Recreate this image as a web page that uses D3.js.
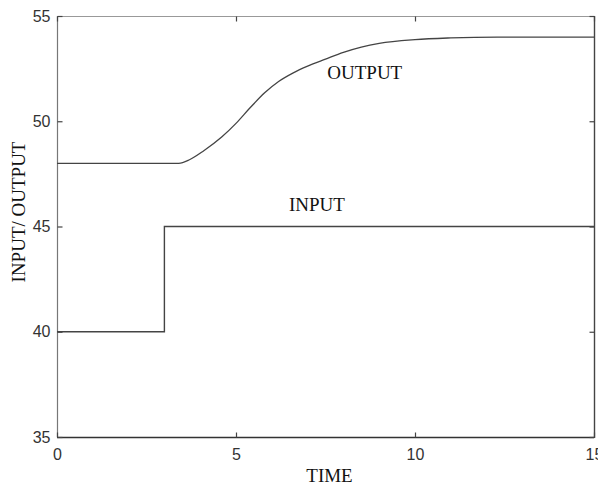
<!DOCTYPE html>
<html>
<head>
<meta charset="utf-8">
<script src="https://cdn.jsdelivr.net/npm/d3@7/dist/d3.min.js"></script>
<style>
  html, body { margin: 0; padding: 0; background: #fff; overflow: hidden; }
  svg { display: block; }
</style>
</head>
<body>
<script>
// ---- data ----
const xTicks = [0, 5, 10, 15];
const yTicks = [35, 40, 45, 50, 55];
const inputTime = [0, 3, 3, 15];
const inputValues = [40, 40, 45, 45];
const outputTime = [0, 3.4, 3.7, 4.1, 4.6, 5.0, 5.4, 5.8, 6.2, 6.6, 7.0, 7.5, 8.0, 8.5, 9.0, 10.0, 11.0, 12.3, 15];
const outputValues = [48, 48, 48.17, 48.6, 49.25, 49.9, 50.65, 51.35, 51.9, 52.3, 52.62, 52.95, 53.27, 53.52, 53.7, 53.88, 53.96, 54, 54];
const xLabel = "TIME";
const yLabel = "INPUT/ OUTPUT";
const outputLabel = "OUTPUT";
const inputLabel = "INPUT";

const W = 598, H = 487;
const L = 57, R = 594, T = 16, B = 437;

const svg = d3.select("body").append("svg").attr("width", W).attr("height", H);
const x = d3.scaleLinear().domain([0, 15]).range([L, R]);
const y = d3.scaleLinear().domain([35, 55]).range([B, T]);

// box
svg.append("line").attr("x1", L).attr("x2", R).attr("y1", T + 0.5).attr("y2", T + 0.5).attr("stroke", "#999").attr("stroke-width", 1.2);
svg.append("line").attr("x1", L + 0.5).attr("x2", L + 0.5).attr("y1", T).attr("y2", B).attr("stroke", "#777").attr("stroke-width", 1.2);
svg.append("line").attr("x1", L).attr("x2", R).attr("y1", B + 0.5).attr("y2", B + 0.5).attr("stroke", "#333").attr("stroke-width", 1.4);
svg.append("line").attr("x1", R + 0.5).attr("x2", R + 0.5).attr("y1", T).attr("y2", B + 1).attr("stroke", "#444").attr("stroke-width", 1.4);

const tickLen = 5;
// axes with inward ticks
const axB = svg.append("g").attr("transform", `translate(0,${B + 0.5})`)
  .call(d3.axisBottom(x).tickValues(xTicks).tickSizeInner(-tickLen).tickSizeOuter(0).tickPadding(11).tickFormat(d3.format("d")));
const axT = svg.append("g").attr("transform", `translate(0,${T + 0.5})`)
  .call(d3.axisTop(x).tickValues(xTicks).tickSizeInner(-tickLen).tickSizeOuter(0).tickFormat(""));
const axL = svg.append("g").attr("transform", `translate(${L + 0.5},0)`)
  .call(d3.axisLeft(y).tickValues(yTicks).tickSizeInner(-tickLen).tickSizeOuter(0).tickPadding(7).tickFormat(d3.format("d")));
const axR = svg.append("g").attr("transform", `translate(${R + 0.5},0)`)
  .call(d3.axisRight(y).tickValues(yTicks).tickSizeInner(-tickLen).tickSizeOuter(0).tickFormat(""));
[axB, axT, axL, axR].forEach(g => {
  g.select(".domain").remove();
  g.selectAll(".tick line").attr("stroke", "#444").attr("stroke-width", 1.2);
  g.selectAll("text").attr("font-family", "'Liberation Sans', Arial, sans-serif").attr("font-size", 16).attr("fill", "#333");
});
axB.selectAll("text").attr("dy", "0.71em");

// lines
const lineIn = d3.line().x((d, i) => x(inputTime[i])).y((d, i) => y(inputValues[i])).curve(d3.curveLinear);
svg.append("path").attr("d", lineIn(inputValues)).attr("fill", "none").attr("stroke", "#444").attr("stroke-width", 1.4);

const lineOut = d3.line().x((d, i) => x(outputTime[i])).y((d, i) => y(outputValues[i])).curve(d3.curveMonotoneX);
svg.append("path").attr("d", lineOut(outputValues)).attr("fill", "none").attr("stroke", "#444").attr("stroke-width", 1.3);

// labels
const serif = "'Liberation Serif', 'Times New Roman', serif";
svg.append("text").attr("x", x(7.55)).attr("y", 79).text(outputLabel)
  .attr("font-family", serif).attr("font-size", 19).attr("fill", "#111");
svg.append("text").attr("x", x(6.48)).attr("y", 211).text(inputLabel)
  .attr("font-family", serif).attr("font-size", 19).attr("fill", "#111");
svg.append("text").attr("x", 329.5).attr("y", 482).attr("text-anchor", "middle").text(xLabel)
  .attr("font-family", serif).attr("font-size", 19).attr("fill", "#111");
svg.append("text").attr("transform", "translate(25,212) rotate(-90)").attr("text-anchor", "middle").text(yLabel)
  .attr("font-family", serif).attr("font-size", 19).attr("fill", "#111");
</script>
</body>
</html>
